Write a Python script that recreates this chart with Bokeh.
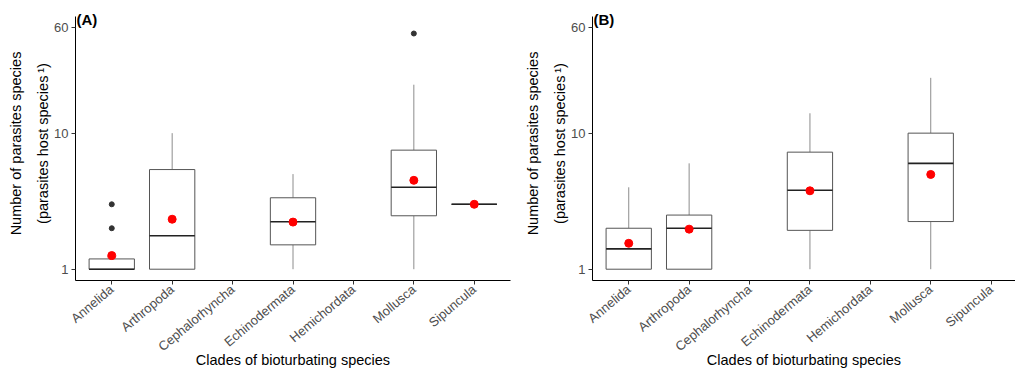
import math
from bokeh.plotting import figure
from bokeh.models import Range1d, FixedTicker, Label, PrintfTickFormatter
from bokeh.layouts import row
from bokeh.embed import file_html
from bokeh.resources import INLINE

# ---------------- data ----------------
clades = ["Annelida", "Arthropoda", "Cephalorhyncha", "Echinodermata",
          "Hemichordata", "Mollusca", "Sipuncula"]
y_ticks = [1, 10, 60]

# Panel A
a_clades = ["Annelida", "Arthropoda", "Echinodermata", "Mollusca", "Sipuncula"]
a_low = [1, 1, 1, 1, 3]
a_q1 = [1, 1, 1.51, 2.47, 3]
a_med = [1, 1.76, 2.23, 4.0, 3]
a_q3 = [1.19, 5.4, 3.35, 7.5, 3]
a_high = [1.19, 10, 5, 22.7, 3]
a_mean = [1.26, 2.33, 2.22, 4.5, 3]
a_out_clade = ["Annelida", "Annelida", "Mollusca"]
a_out_val = [2, 3, 54]

# Panel B
b_clades = ["Annelida", "Arthropoda", "Echinodermata", "Mollusca"]
b_low = [1, 1, 1, 1]
b_q1 = [1, 1, 1.93, 2.24]
b_med = [1.41, 2.0, 3.8, 6.0]
b_q3 = [2.0, 2.5, 7.25, 10.0]
b_high = [4, 6, 14, 25.5]
b_mean = [1.55, 1.97, 3.77, 4.97]
b_out_clade = []
b_out_val = []

FONT = "Liberation Sans"
BOXW = 0.75
Y_LO, Y_HI = 0.826, 72.0


def panel(tag, cl, low, q1, med, q3, high, mean, oc, ov, width, min_right, x_end):
    # frame is extended 10px above the axis top so the panel tag fits inside it
    y_top = 10 ** (math.log10(Y_HI) + 10 / 136.0)
    p = figure(width=width, height=377, output_backend="svg", toolbar_location=None,
               y_axis_type="log", x_range=Range1d(0.4, x_end), y_range=Range1d(Y_LO, y_top),
               min_border_left=75, min_border_right=min_right, min_border_top=6,
               min_border_bottom=97)
    p.outline_line_color = None
    p.xgrid.visible = False
    p.ygrid.visible = False
    p.background_fill_color = "white"
    p.border_fill_color = "white"

    xs = [clades.index(c) + 1 for c in cl]
    left = [x - BOXW / 2 for x in xs]
    right = [x + BOXW / 2 for x in xs]

    p.segment(x0=xs, x1=xs, y0=low, y1=q1, line_color="#8c8c8c", line_width=1)
    p.segment(x0=xs, x1=xs, y0=q3, y1=high, line_color="#8c8c8c", line_width=1)
    p.quad(left=left, right=right, bottom=q1, top=q3, fill_color="white",
           line_color="#555555", line_width=1)
    p.segment(x0=left, x1=right, y0=med, y1=med, line_color="#222222", line_width=1.6)
    if ov:
        oxs = [clades.index(c) + 1 for c in oc]
        p.scatter(oxs, ov, size=5, color="#333333")
    p.scatter(xs, mean, size=8, color="#ff0000")

    # axes
    xa = p.xaxis[0]
    xa.ticker = FixedTicker(ticks=list(range(1, len(clades) + 1)))
    xa.major_label_overrides = {i + 1: c for i, c in enumerate(clades)}
    xa.major_label_orientation = math.radians(40)
    xa.axis_label = "Clades of bioturbating species"

    ya = p.yaxis[0]
    ya.ticker = FixedTicker(ticks=y_ticks, minor_ticks=[])
    ya.formatter = PrintfTickFormatter(format="%d")
    ya.bounds = (Y_LO, Y_HI)
    ya.axis_label = "Number of parasites species\n(parasites host species\u2009\u00b9)"
    ya.axis_label_text_line_height = 1.7

    for ax in (xa, ya):
        ax.axis_line_color = "black"
        ax.axis_line_width = 1
        ax.major_tick_line_color = "#333333"
        ax.major_tick_in = 0
        ax.major_tick_out = 4
        ax.minor_tick_line_color = None
        ax.major_label_standoff = 3
        ax.major_label_text_font = FONT
        ax.major_label_text_font_size = "13px"
        ax.major_label_text_color = "#4d4d4d"
        ax.axis_label_text_font = FONT
        ax.axis_label_text_font_size = "14.5px"
        ax.axis_label_text_font_style = "normal"
        ax.axis_label_text_color = "black"
    xa.axis_label_standoff = -11
    ya.axis_label_standoff = 0

    p.add_layout(Label(x=0.4, y=Y_HI, x_offset=1, y_offset=6, text=tag,
                       text_font=FONT, text_font_size="15px", text_font_style="bold",
                       text_baseline="top", text_color="black"))
    return p


pa = panel("(A)", a_clades, a_low, a_q1, a_med, a_q3, a_high, a_mean,
           a_out_clade, a_out_val, 517, 7, 7.6)
pb = panel("(B)", b_clades, b_low, b_q1, b_med, b_q3, b_high, b_mean,
           b_out_clade, b_out_val, 498, 0, 0.4 + 423 / 60.4)

layout = row(pa, pb)
open("out.html", "w").write(file_html(layout, INLINE))
